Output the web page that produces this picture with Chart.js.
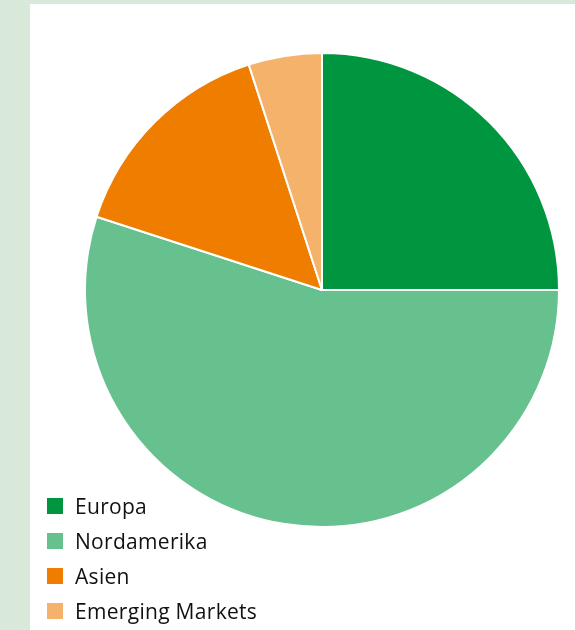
<!DOCTYPE html>
<html>
<head>
<meta charset="utf-8">
<script src="https://cdn.jsdelivr.net/npm/chart.js@4.4.1/dist/chart.umd.min.js"></script>
<style>
  html, body { margin: 0; padding: 0; }
  body { width: 575px; height: 630px; background: #d8e9da; position: relative; overflow: hidden; }
  #panel { position: absolute; left: 30px; top: 4px; width: 545px; height: 626px; background: #ffffff; }
  #wrap { position: absolute; left: 0; top: 0; width: 545px; height: 626px; }
  #legend { position: absolute; left: 17px; top: 491px; font-family: "Open Sans", "Noto Sans", sans-serif; font-size: 21px; letter-spacing: 0.3px; color: #111111; }
  .item { height: 35px; display: flex; align-items: flex-start; position: relative; }
  .box { width: 16px; height: 16px; margin-top: 3px; margin-right: 12px; }
  .lbl { line-height: 22px; margin-top: 0px; }
</style>
</head>
<body>
<div id="panel">
  <div id="wrap"><canvas id="c" width="545" height="626"></canvas></div>
  <div id="legend"></div>
</div>
<script>
const categories = ["Europa", "Nordamerika", "Asien", "Emerging Markets"];
const shares = [25, 55, 15, 5];
const colors = ["#009640", "#66c18e", "#ef7d00", "#f5b26b"];

const legend = document.getElementById('legend');
categories.forEach((c, i) => {
  const it = document.createElement('div');
  it.className = 'item';
  const b = document.createElement('div');
  b.className = 'box';
  b.style.background = colors[i];
  const t = document.createElement('div');
  t.className = 'lbl';
  t.textContent = c;
  it.appendChild(b); it.appendChild(t);
  legend.appendChild(it);
});

new Chart(document.getElementById('c'), {
  type: 'pie',
  data: {
    labels: categories,
    datasets: [{
      data: shares,
      backgroundColor: colors,
      borderColor: '#ffffff',
      borderWidth: 2
    }]
  },
  options: {
    responsive: false,
    animation: false,
    layout: { padding: { left: 54, top: 48, right: 15, bottom: 102 } },
    plugins: {
      legend: { display: false },
      tooltip: { enabled: false }
    }
  }
});
</script>
</body>
</html>
